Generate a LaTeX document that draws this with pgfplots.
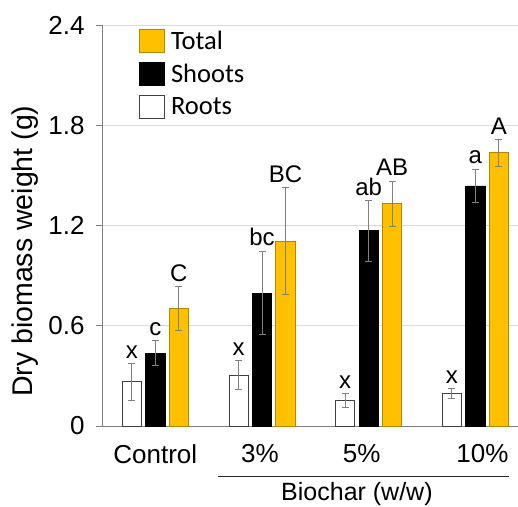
\documentclass[border=0pt]{standalone}
\usepackage{pgfplots}
\pgfplotsset{compat=1.18}
\usepackage{fontspec}
\setmainfont{Liberation Sans}
\newfontfamily\calib{Carlito}
\definecolor{gold}{RGB}{255,192,0}
\definecolor{golddark}{RGB}{180,135,0}
\definecolor{axgray}{RGB}{128,128,128}
\definecolor{gridgray}{RGB}{217,217,217}
\pgfplotsset{myerr/.style={
  /pgfplots/error bars/y dir=both,
  /pgfplots/error bars/y explicit,
  /pgfplots/error bars/error bar style={color=axgray, line width=0.8pt},
  /pgfplots/error bars/error mark options={rotate=90, mark size=3.5pt, color=axgray, line width=0.8pt}}}
\begin{document}
\begin{tikzpicture}
\begin{axis}[
  at={(0,0)}, anchor=south west,
  scale only axis, width=416pt, height=401pt,
  xmin=-0.5, xmax=3.4, ymin=0, ymax=2.4,
  axis x line=bottom, axis y line=left,
  axis line style={-, draw=axgray, line width=0.8pt},
  ytick={0,0.6,1.2,1.8,2.4},
  yticklabels={0,0.6,1.2,1.8,2.4},
  ymajorgrids, grid style={gridgray, line width=0.8pt},
  xtick={0,0.98,1.935,3.067},
  xticklabels={Control,3\%,5\%,10\%},
  extra x ticks={-0.5,0.5,1.5,2.5},
  extra x tick labels={},
  extra x tick style={major tick length=8pt, tick align=outside, grid=none, tick style={draw=axgray, line width=0.8pt}},
  tick align=outside,
  major tick length=6pt,
  xtick style={draw=none},
  ytick style={draw=axgray, line width=0.8pt},
  yticklabel style={font=\fontsize{26}{30}\selectfont, xshift=-8pt},
  xticklabel style={font=\fontsize{26}{30}\selectfont, yshift=-9pt},
  /pgf/number format/assume math mode=true,
  clip=false,
  legend style={draw=none, fill=none, at={(rel axis cs:0.089,0.99)}, anchor=north west,
    font=\calib\fontsize{26.5}{28}\selectfont, row sep=9pt, inner sep=0pt},
  legend cell align=left,
  reverse legend,
  legend image code/.code={\draw[#1, line width=0.8pt] (0pt,-11.5pt) rectangle (25pt,11.5pt); \path (29pt,0pt);},
]
\addplot[ybar, bar width=0.18, bar shift=0pt, fill=white, draw=black!75, line width=0.8pt, myerr]
  table[x=x, y=y, y error=e]{
x y e
-0.22 0.265 0.110
0.78 0.305 0.085
1.78 0.154 0.040
2.78 0.196 0.030
};
\addlegendentry{Roots}
\addplot[ybar, bar width=0.18, bar shift=0pt, fill=black, draw=black, line width=0.8pt, myerr]
  table[x=x, y=y, y error=e]{
x y e
0 0.435 0.075
1 0.796 0.250
2 1.168 0.180
3 1.437 0.100
};
\addlegendentry{Shoots}
\addplot[ybar, bar width=0.18, bar shift=0pt, fill=gold, draw=golddark, line width=0.8pt, myerr]
  table[x=x, y=y, y error=e]{
x y e
0.22 0.705 0.130
1.22 1.106 0.320
2.22 1.331 0.135
3.22 1.635 0.080
};
\addlegendentry{Total}
\addplot[only marks, mark=none, forget plot, nodes near coords, point meta=explicit symbolic,
  nodes near coords style={anchor=south, inner sep=0pt, yshift=5pt, font=\fontsize{24}{27}\selectfont}]
  table[x=x, y=y, meta=t]{
x y t
-0.22 0.375 x
0 0.510 c
0.22 0.835 C
0.78 0.390 x
1 1.046 bc
1.22 1.426 BC
1.78 0.194 x
2 1.348 ab
2.22 1.466 AB
2.78 0.226 x
3 1.537 a
3.22 1.715 A
};
\node[rotate=90, font=\fontsize{28.5}{32}\selectfont] at ([xshift=-77pt]rel axis cs:0,0.436) {Dry biomass weight (g)};
\draw[black!85, line width=1pt] ([yshift=-50pt]axis cs:0.588,0) -- ([yshift=-50pt]axis cs:3.32,0);
\node[font=\fontsize{25}{28}\selectfont] at ([yshift=-68pt]axis cs:1.89,0) {Biochar (w/w)};
\end{axis}
\pgfresetboundingbox
\path (-102pt,-80pt) rectangle (416pt,426pt);
\end{tikzpicture}
\end{document}
